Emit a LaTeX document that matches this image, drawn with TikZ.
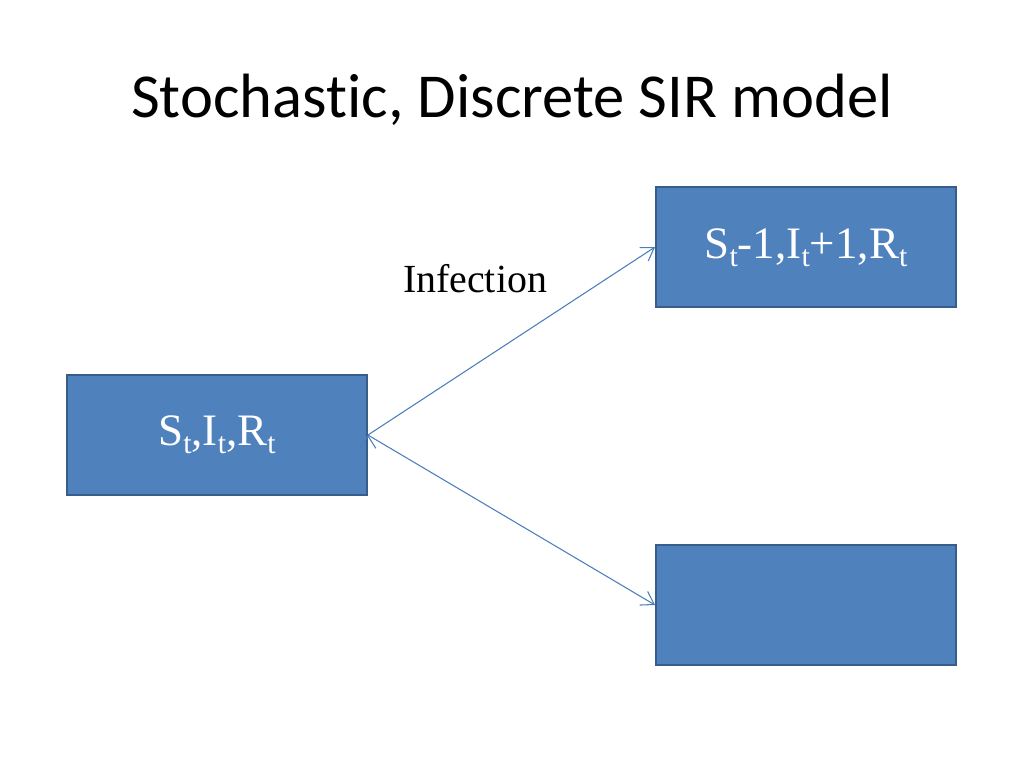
\documentclass[tikz,border=0pt]{standalone}
\usepackage{fontspec}
\setmainfont{Liberation Serif}
\newfontfamily\titlefont[Ligatures=NoCommon]{Carlito}
\usepackage{xcolor}
\usetikzlibrary{arrows.meta}
\definecolor{boxfill}{HTML}{4F81BD}
\definecolor{boxline}{HTML}{385D8A}
\definecolor{arrowline}{HTML}{4A7EBB}
\newcommand{\subt}{\raisebox{-4.5pt}{\fontsize{17}{17}\selectfont t}}

\begin{document}
\begin{tikzpicture}[x=0.02cm,y=-0.02cm,main node/.style={rectangle, draw=boxline, line width=1.1pt, fill=boxfill, minimum width=6cm, minimum height=2.4cm, text=white, font=\fontsize{25.6}{30}\selectfont}]
	\useasboundingbox (0,0) rectangle (1024,768);
	% Title
	\node [anchor=base, font=\titlefont\fontsize{35.6}{42}\selectfont] (title) at (512,117) {Stochast\kern0pt ic, Discrete SIR model};
	
	% Nodes
	\node [main node] (1) at (217,435) {S\subt,I\subt,R\subt};
	\node [main node] (2) at (806,247) {};
	\node [main node] (3) at (806,605) {};
	\node [anchor=north, text=white, font=\fontsize{25.6}{30}\selectfont] (2text) at (806,223) {S\subt-1,I\subt+1,R\subt};
	
	\node [font=\fontsize{22.7}{27}\selectfont] (lab) at (475,279) {Infection};
	
	\path[draw=arrowline, line width=0.6pt, -{Straight Barb[length=7pt, width=9pt]}]
	(1.east) edge (2.west)
	(1.east) edge (3.west);
	
\end{tikzpicture}
\end{document}
